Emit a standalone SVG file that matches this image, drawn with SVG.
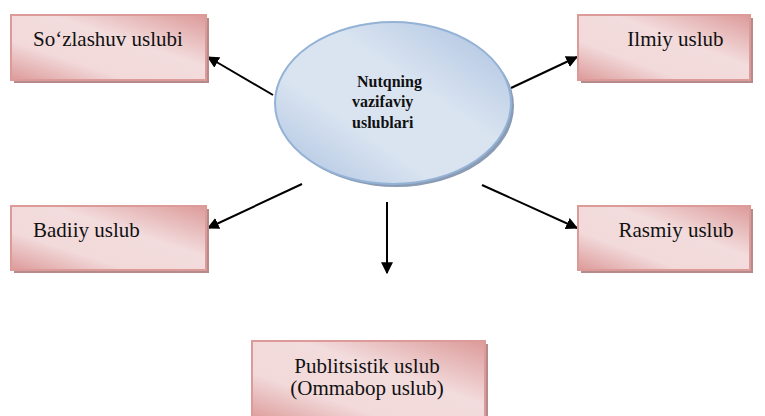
<svg xmlns="http://www.w3.org/2000/svg" width="765" height="416" viewBox="0 0 765 416">
<style>
.box{fill:url(#pink);stroke:#dc9a99;stroke-width:2}
.shadow{fill:#b58a8a}
.t{font-family:'Liberation Serif','Times New Roman','DejaVu Serif',serif;font-size:21px;fill:#111}
.tb{font-family:'Liberation Serif','Times New Roman','DejaVu Serif',serif;font-size:16px;font-weight:bold;fill:#111}
.c{stroke:#000;stroke-width:2;fill:none;marker-end:url(#ah)}
</style>
<defs>
<linearGradient id="pink" x1="0" y1="1" x2="1" y2="0">
<stop offset="0" stop-color="#dc9a99"/>
<stop offset="0.3" stop-color="#f2d9da"/>
<stop offset="0.6" stop-color="#f3dcdd"/>
<stop offset="1" stop-color="#dc9a99"/>
</linearGradient>
<linearGradient id="blue" x1="0" y1="1" x2="1" y2="0">
<stop offset="0" stop-color="#a9c0df"/>
<stop offset="0.35" stop-color="#dae4f1"/>
<stop offset="0.6" stop-color="#dae4f1"/>
<stop offset="1" stop-color="#a9c0df"/>
</linearGradient>
<marker id="ah" viewBox="0 0 10 10" refX="9" refY="5" markerWidth="6" markerHeight="6" orient="auto" markerUnits="strokeWidth">
<path d="M0,0 L10,5 L0,10 Z" fill="#000"/>
</marker>
</defs>
<g id="connectors">
<line class="c" x1="273" y1="95" x2="208" y2="57"/>
<line class="c" x1="511" y1="88" x2="577" y2="57"/>
<line class="c" x1="302" y1="184" x2="208" y2="228"/>
<line class="c" x1="482" y1="185" x2="577" y2="228"/>
<line class="c" x1="387" y1="202" x2="387" y2="273"/>
</g>
<g id="center">
<ellipse cx="396" cy="106" rx="118" ry="81" fill="#8a9bb3"/>
<ellipse cx="393" cy="103" rx="118" ry="81" fill="url(#blue)" stroke="#94b2d6" stroke-width="2"/>
<text class="tb" x="357" y="87">Nutqning</text>
<text class="tb" x="352" y="107">vazifaviy</text>
<text class="tb" x="352" y="128">uslublari</text>
</g>
<g id="sozlashuv">
<rect class="shadow" x="14" y="18" width="195" height="65"/>
<rect class="box" x="11" y="15" width="195" height="65"/>
<text class="t" x="108" y="46" text-anchor="middle">So‘zlashuv uslubi</text>
</g>
<g id="ilmiy">
<rect class="shadow" x="581" y="18" width="172" height="65"/>
<rect class="box" x="578" y="15" width="172" height="65"/>
<text class="t" x="675.5" y="46" text-anchor="middle">Ilmiy uslub</text>
</g>
<g id="badiiy">
<rect class="shadow" x="14" y="209" width="195" height="64"/>
<rect class="box" x="11" y="206" width="195" height="64"/>
<text class="t" x="33" y="237">Badiiy uslub</text>
</g>
<g id="rasmiy">
<rect class="shadow" x="581" y="209" width="172" height="64"/>
<rect class="box" x="578" y="206" width="172" height="64"/>
<text class="t" x="676" y="237" text-anchor="middle">Rasmiy uslub</text>
</g>
<g id="publitsistik">
<rect class="shadow" x="255" y="344" width="233" height="80"/>
<rect class="box" x="252" y="341" width="233" height="80"/>
<text class="t" x="367" y="373" text-anchor="middle">Publitsistik uslub</text>
<text class="t" x="367" y="395" text-anchor="middle">(Ommabop uslub)</text>
</g>
</svg>
